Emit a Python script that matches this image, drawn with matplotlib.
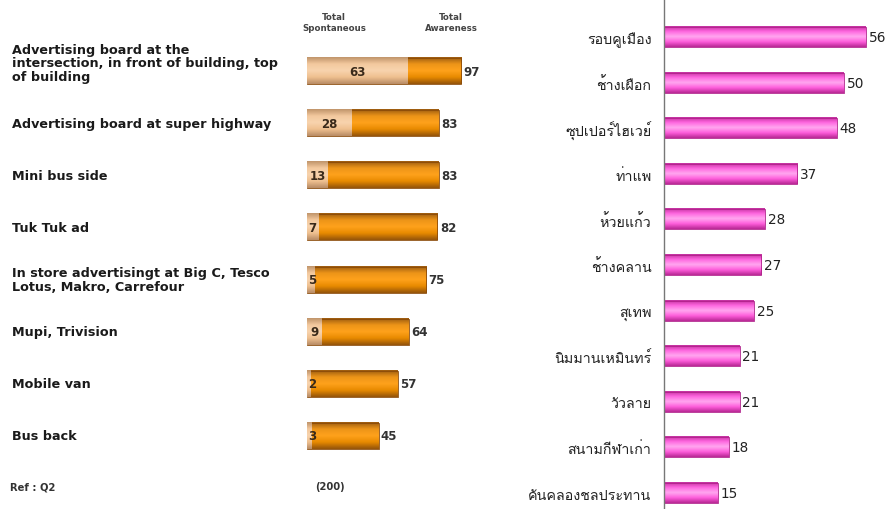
import numpy as np
import matplotlib
matplotlib.use('Agg')
import matplotlib.pyplot as plt
from matplotlib import font_manager, ft2font
from matplotlib.colors import LinearSegmentedColormap

# ---- data ----
media = ['Advertising board at the\nintersection, in front of building, top\nof building',
         'Advertising board at super highway',
         'Mini bus side',
         'Tuk Tuk ad',
         'In store advertisingt at Big C, Tesco\nLotus, Makro, Carrefour',
         'Mupi, Trivision',
         'Mobile van',
         'Bus back']
spontaneous = [63, 28, 13, 7, 5, 9, 2, 3]
awareness = [97, 83, 83, 82, 75, 64, 57, 45]

roads = ['รอบคูเมือง', 'ช้างเผือก', 'ซุปเปอร์ไฮเวย์', 'ท่าแพ', 'ห้วยแก้ว', 'ช้างคลาน',
         'สุเทพ', 'นิมมานเหมินทร์', 'วัวลาย', 'สนามกีฬาเก่า', 'คันคลองชลประทาน']
road_pct = [56, 50, 48, 37, 28, 27, 25, 21, 21, 18, 15]


def find_thai_font():
    for f in font_manager.fontManager.ttflist:
        try:
            cmap = ft2font.FT2Font(f.fname).get_charmap()
        except Exception:
            continue
        if 0x0E23 in cmap and 0x0E1A in cmap and 0x0E40 in cmap:
            return f.name
    return 'DejaVu Sans'


thai_font = find_thai_font()

orange = LinearSegmentedColormap.from_list('o', ['#9a5a10', '#ec9418', '#ffa21c', '#e88a00', '#94540a'])
peach = LinearSegmentedColormap.from_list('p', ['#c0946a', '#f3c99e', '#f8d4ae', '#efc08f', '#b88c66'])
pink = LinearSegmentedColormap.from_list('k', ['#c0309c', '#ff66e0', '#ffa8f0', '#ff5edc', '#b82894'])


def shade(ax, bars, cmap):
    grad = np.linspace(0, 1, 64).reshape(-1, 1)
    for b in bars:
        x0, y0 = b.get_x(), b.get_y()
        w, h = b.get_width(), b.get_height()
        ax.imshow(grad, cmap=cmap, aspect='auto', interpolation='bicubic',
                  extent=(x0, x0 + w, y0 + h, y0), zorder=b.get_zorder() - 0.1)
        b.set_facecolor('none')


fig = plt.figure(figsize=(8.87, 5.10), dpi=100)
W, H = 887.0, 510.0

# ---- left panel ----
ax1 = fig.add_axes([307 / W, 1 - 463 / H, 159 / W, 417 / H])
y1 = np.arange(len(media))
b_tot = ax1.barh(y1, awareness, height=0.5, edgecolor='#8a4a08', linewidth=0.6, zorder=2)
b_spo = ax1.barh(y1, spontaneous, height=0.5, edgecolor='none', zorder=3)
shade(ax1, b_tot, orange)
shade(ax1, b_spo, peach)
for i, (s, t) in enumerate(zip(spontaneous, awareness)):
    ax1.text(max(s / 2, 3.5), i, str(s), ha='center', va='center', fontsize=8.5,
             fontweight='bold', color='#3a2a1a', zorder=5)
    ax1.text(t + 1.5, i, str(t), ha='left', va='center', fontsize=8.5,
             fontweight='bold', color='#333333', zorder=5)
ax1.set_xlim(0, 100)
ax1.set_ylim(len(media) - 0.5, -0.5)
ax1.axis('off')

for i, lab in enumerate(media):
    shift = 8 if lab.count('\n') > 1 else 0
    fig.text(12 / W, 1 - (72 + 52.1 * i - shift) / H, lab, ha='left', va='center', fontsize=9.2,
             fontweight='bold', color='#1a1a1a', linespacing=1.05)

fig.text(334 / W, 1 - 23 / H, 'Total\nSpontaneous', ha='center', va='center', fontsize=6.2,
         fontweight='bold', color='#444444', linespacing=1.2)
fig.text(451 / W, 1 - 23 / H, 'Total\nAwareness', ha='center', va='center', fontsize=6.2,
         fontweight='bold', color='#444444', linespacing=1.2)
fig.text(10 / W, 1 - 487 / H, 'Ref : Q2', ha='left', va='center', fontsize=7.2,
         fontweight='bold', color='#333333')
fig.text(330 / W, 1 - 487 / H, '(200)', ha='center', va='center', fontsize=7.2,
         fontweight='bold', color='#333333')

# ---- right panel ----
ax2 = fig.add_axes([664 / W, 0, (W - 664) / W, 1])
y2 = np.arange(len(roads))
b_r = ax2.barh(y2, road_pct, height=0.44, edgecolor='#b0208a', linewidth=0.6, zorder=2)
shade(ax2, b_r, pink)
for i, v in enumerate(road_pct):
    ax2.text(v + 0.8, i, str(v), ha='left', va='center', fontsize=9.8, color='#222222')
ax2.set_xlim(0, (W - 664) / 3.6)
ax2.set_ylim((H - 38) / 45.6, -38 / 45.6)
for sp in ['top', 'right', 'bottom']:
    ax2.spines[sp].set_visible(False)
ax2.spines['left'].set_color('#777777')
ax2.spines['left'].set_linewidth(1.0)
ax2.set_xticks([])
ax2.set_yticks(y2)
ax2.set_yticklabels(roads, fontsize=10.3, family=[thai_font, 'DejaVu Sans'], color='#222222')
ax2.tick_params(axis='y', length=0, pad=9)

fig.savefig('out.png', dpi=100, facecolor='white')
